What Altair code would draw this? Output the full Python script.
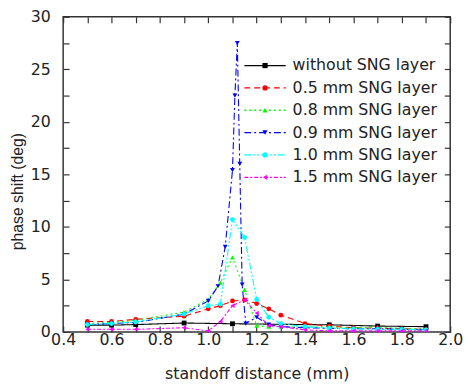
import altair as alt
import pandas as pd

# ---------------- data ----------------
series_names = ["without SNG layer", "0.5 mm SNG layer", "0.8 mm SNG layer",
                "0.9 mm SNG layer", "1.0 mm SNG layer", "1.5 mm SNG layer"]

black_x = [0.5, 0.6, 0.7, 0.9, 1.1, 1.5, 1.7, 1.9]
black_y = [0.65, 0.65, 0.7, 0.85, 0.78, 0.68, 0.56, 0.5]

red_x = [0.5, 0.6, 0.7, 0.9, 1.0, 1.05, 1.1, 1.15, 1.2, 1.25, 1.3, 1.4, 1.5, 1.6, 1.7, 1.8, 1.9]
red_y = [1.0, 1.0, 1.2, 1.5, 2.2, 2.5, 2.95, 3.05, 2.7, 2.2, 1.6, 0.8, 0.55, 0.4, 0.35, 0.3, 0.25]

green_x = [0.5, 0.6, 0.7, 0.9, 1.0, 1.05, 1.1, 1.15, 1.2, 1.25, 1.3, 1.4, 1.5, 1.6, 1.7, 1.8, 1.9]
green_y = [0.8, 0.9, 1.1, 1.9, 3.1, 4.7, 7.1, 4.0, 0.6, 0.5, 0.5, 0.45, 0.5, 0.4, 0.45, 0.35, 0.3]

blue_x = [0.5, 0.6, 0.7, 0.9, 1.0, 1.04, 1.07, 1.1, 1.11, 1.12, 1.13, 1.14, 1.155,
          1.2, 1.25, 1.3, 1.4, 1.5, 1.6, 1.7, 1.8, 1.9]
blue_y = [0.7, 0.8, 0.9, 1.7, 2.95, 4.35, 8.1, 15.4, 22.5, 27.5, 16.0, 4.5, 0.8,
          1.4, 0.7, 0.5, 0.4, 0.35, 0.3, 0.3, 0.25, 0.2]

cyan_x = [0.5, 0.6, 0.7, 0.9, 1.0, 1.05, 1.1, 1.15, 1.2, 1.25, 1.3, 1.4, 1.5, 1.6, 1.7, 1.8, 1.9]
cyan_y = [0.7, 0.8, 0.95, 1.7, 2.5, 2.65, 10.7, 9.0, 3.1, 1.4, 0.8, 0.5, 0.35, 0.3, 0.25, 0.25, 0.2]

magenta_x = [0.5, 0.6, 0.7, 0.9, 1.0, 1.05, 1.1, 1.15, 1.2, 1.25, 1.3, 1.4, 1.5, 1.6, 1.7, 1.8, 1.9]
magenta_y = [0.25, 0.25, 0.25, 0.4, 0.1, 1.0, 2.5, 3.05, 1.8, 0.6, 0.5, 0.2, 0.1, 0.1, 0.1, 0.1, 0.1]

x_major = [0.4, 0.6, 0.8, 1.0, 1.2, 1.4, 1.6, 1.8, 2.0]
x_minor = [0.4, 0.5, 0.6, 0.7, 0.8, 0.9, 1.0, 1.1, 1.2, 1.3, 1.4, 1.5, 1.6, 1.7, 1.8, 1.9, 2.0]
y_major = [0, 5, 10, 15, 20, 25, 30]
y_minor = [0, 2.5, 5, 7.5, 10, 12.5, 15, 17.5, 20, 22.5, 25, 27.5, 30]

# ---------------- styles ----------------
series_colors = ["#000000", "#ff0000", "#00ff00", "#0000ff", "#00ffff", "#ff00ff"]
series_shapes = ["square", "circle", "triangle-up", "triangle-down", "circle", "triangle-left"]
series_dashes = [[1, 0], [6, 4], [2, 3], [7, 3, 2, 3], [7, 2, 2, 2, 2, 2], [4, 2, 2, 2]]

W, H = 393, 320
TXT = "#222222"
TICK = "#333333"

xs = [black_x, red_x, green_x, blue_x, cyan_x, magenta_x]
ys = [black_y, red_y, green_y, blue_y, cyan_y, magenta_y]
rows = []
for name, sx, sy in zip(series_names, xs, ys):
    for a, b in zip(sx, sy):
        rows.append({"series": name, "x": a, "y": b})
df = pd.DataFrame(rows)
legend_df = pd.DataFrame({"series": series_names, "idx": list(range(len(series_names)))})

xscale = alt.Scale(domain=[0.4, 2.0], nice=False, zero=False)
yscale = alt.Scale(domain=[0, 30], nice=False, zero=False)

color = alt.Color("series:N", scale=alt.Scale(domain=series_names, range=series_colors), legend=None)
shape = alt.Shape("series:N", scale=alt.Scale(domain=series_names, range=series_shapes), legend=None)
dash = alt.StrokeDash("series:N", scale=alt.Scale(domain=series_names, range=series_dashes), legend=None)

main_x_axis = alt.Axis(values=x_major, format=".1f", orient="bottom", ticks=False, tickSize=0,
                       domain=False, grid=False, labelFont="DejaVu Sans", labelFontSize=16,
                       labelColor=TXT, labelPadding=13, labelBaseline="alphabetic",
                       labelFlush=False, labelOverlap=False,
                       title="standoff distance (mm)", titleFont="DejaVu Sans", titleFontSize=16,
                       titleFontWeight="normal", titleColor=TXT, titleY=47,
                       titleBaseline="alphabetic")
main_y_axis = alt.Axis(values=y_major, format="d", orient="left", ticks=False, tickSize=0,
                       domain=False, grid=False, labelFont="DejaVu Sans", labelFontSize=16,
                       labelColor=TXT, labelPadding=13, labelFlush=False, labelOverlap=False,
                       title="phase shift (deg)", titleFont="Liberation Sans", titleFontSize=16,
                       titleFontWeight="normal", titleColor=TXT, titleX=-38, titleY=177,
                       titleAngle=-90, titleBaseline="bottom", titleAlign="center")


def tick_axis(orient, offset, vals):
    return alt.Axis(orient=orient, offset=offset, values=vals, labels=False, domain=False,
                    ticks=True, tickSize=6, tickColor=TICK, tickWidth=1.2, grid=False,
                    title=None)


lines = alt.Chart(df).mark_line(strokeWidth=1.1).encode(
    x=alt.X("x:Q", scale=xscale, axis=main_x_axis),
    y=alt.Y("y:Q", scale=yscale, axis=main_y_axis),
    color=color, strokeDash=dash,
)

points = alt.Chart(df).mark_point(filled=True, size=24, opacity=1).encode(
    x=alt.X("x:Q", scale=xscale, axis=tick_axis("top", -H, x_minor)),
    y=alt.Y("y:Q", scale=yscale, axis=tick_axis("right", -W, y_minor)),
    color=color, shape=shape,
)

ghost = alt.Chart(df).mark_line(opacity=0).encode(
    x=alt.X("x:Q", scale=xscale, axis=tick_axis("bottom", -H, x_minor)),
    y=alt.Y("y:Q", scale=yscale, axis=tick_axis("left", -W, y_minor)),
)

leg_y = alt.Y("idx:Q", scale=alt.Scale(domain=[0, 5], range=[49.5, 163]), axis=None)

leg_rules = alt.Chart(legend_df).mark_rule(strokeWidth=1.3).encode(
    x=alt.value(184), x2=alt.value(226), y=leg_y, color=color, strokeDash=dash,
)
leg_pts = alt.Chart(legend_df).mark_point(filled=True, size=28, opacity=1).encode(
    x=alt.value(205), y=leg_y, color=color, shape=shape,
)
leg_text = alt.Chart(legend_df).mark_text(align="left", baseline="middle", font="DejaVu Sans",
                                          fontSize=16, color=TXT).encode(
    x=alt.value(233), y=leg_y, text="series:N",
)

chart = alt.layer(lines, points, ghost, leg_rules, leg_pts, leg_text).resolve_scale(
    y="independent"
).resolve_axis(
    x="independent", y="independent"
).properties(
    width=W, height=H,
    autosize=alt.AutoSizeParams(type="none"),
    padding={"left": 56, "top": 6, "right": 13, "bottom": 55},
).configure_view(
    stroke="#333333", strokeWidth=1.5
)

chart.save("out.html", embed_options={"renderer": "svg", "actions": False})
